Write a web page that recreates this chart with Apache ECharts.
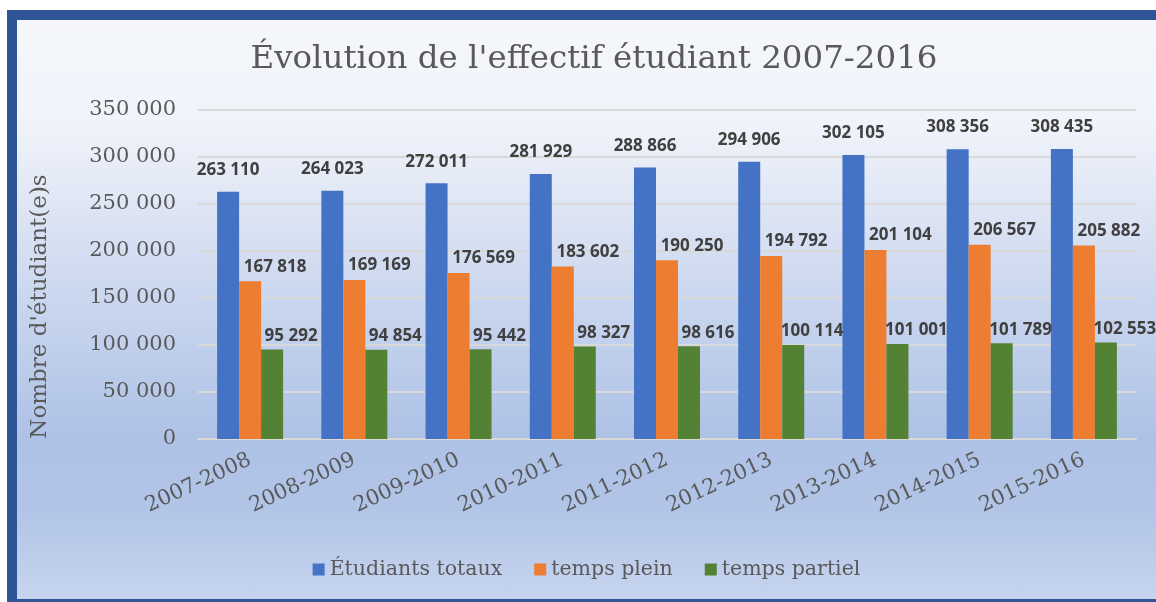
<!DOCTYPE html>
<html>
<head>
<meta charset="utf-8">
<script src="https://cdn.jsdelivr.net/npm/echarts@6/dist/echarts.min.js"></script>
<style>
  html, body { margin: 0; padding: 0; background: #ffffff; }
  #frame {
    position: absolute; left: 7px; top: 10px; width: 1160px; height: 599px;
    border: 10px solid #2f5597; border-right: none; box-sizing: border-box;
  }
  #chart {
    position: absolute; left: 17px; top: 20px; width: 1139px; height: 579px;
    background: linear-gradient(to bottom, #f5f7fb 0%, #f0f3fa 18%, #c8d5ee 50%, #aec2e6 72%, #b2c5e7 85%, #c6d4ee 100%);
  }
</style>
</head>
<body>
<div id="frame"></div>
<div id="chart"></div>
<script>
const categories = ['2007-2008', '2008-2009', '2009-2010', '2010-2011', '2011-2012',
  '2012-2013', '2013-2014', '2014-2015', '2015-2016'];
const totaux = [263110, 264023, 272011, 281929, 288866, 294906, 302105, 308356, 308435];
const plein = [167818, 169169, 176569, 183602, 190250, 194792, 201104, 206567, 205882];
const partiel = [95292, 94854, 95442, 98327, 98616, 100114, 101001, 101789, 102553];

const serif = 'DejaVu Serif';
const grey = '#595959';

function fmt(v) {
  return String(v).replace(/\B(?=(\d{3})+(?!\d))/g, ' ');
}

function labelStyle(distance, offset) {
  return {
    show: true,
    position: 'top',
    distance: distance,
    offset: offset,
    color: '#404040',
    fontFamily: 'Open Sans',
    fontWeight: 'bold',
    fontSize: 17,
    formatter: (p) => fmt(p.value)
  };
}

const chart = echarts.init(document.getElementById('chart'));
chart.setOption({
  animation: false,
  title: {
    text: "Évolution de l'effectif étudiant 2007-2016",
    left: 572,
    top: 18,
    textAlign: 'center',
    textStyle: { fontFamily: serif, fontWeight: 'normal', fontSize: 32.5, color: grey }
  },
  legend: {
    left: 'center',
    top: 534,
    itemWidth: 12,
    itemHeight: 12,
    itemGap: 32,
    icon: 'rect',
    textStyle: { fontFamily: serif, fontSize: 20.5, color: grey }
  },
  grid: { left: 181, top: 90, width: 938, height: 329 },
  xAxis: {
    type: 'category',
    data: categories,
    axisLine: { lineStyle: { color: '#d9d9d9', width: 2 } },
    axisTick: { show: false },
    axisLabel: { rotate: 25, margin: 20, fontFamily: serif, fontSize: 21, color: grey }
  },
  yAxis: {
    type: 'value',
    min: 0,
    max: 350000,
    interval: 50000,
    name: "Nombre d'étudiant(e)s",
    nameLocation: 'middle',
    nameGap: 146,
    nameTextStyle: { fontFamily: serif, fontSize: 23, color: grey, padding: [0, 64, 0, 0] },
    axisLabel: { margin: 22, fontFamily: serif, fontSize: 21, color: grey, formatter: (v) => fmt(v) },
    splitLine: { lineStyle: { color: '#d9d9d9', width: 2 } }
  },
  series: [
    {
      name: 'Étudiants totaux', type: 'bar', data: totaux, barWidth: 22, barGap: '0%',
      itemStyle: { color: '#4472c4' },
      label: labelStyle(13, [0, 0])
    },
    {
      name: 'temps plein', type: 'bar', data: plein, barWidth: 22,
      itemStyle: { color: '#ed7d31' },
      label: labelStyle(6, [25, 0])
    },
    {
      name: 'temps partiel', type: 'bar', data: partiel, barWidth: 22,
      itemStyle: { color: '#548235' },
      label: labelStyle(5, [19, 0])
    }
  ]
});
</script>
</body>
</html>
